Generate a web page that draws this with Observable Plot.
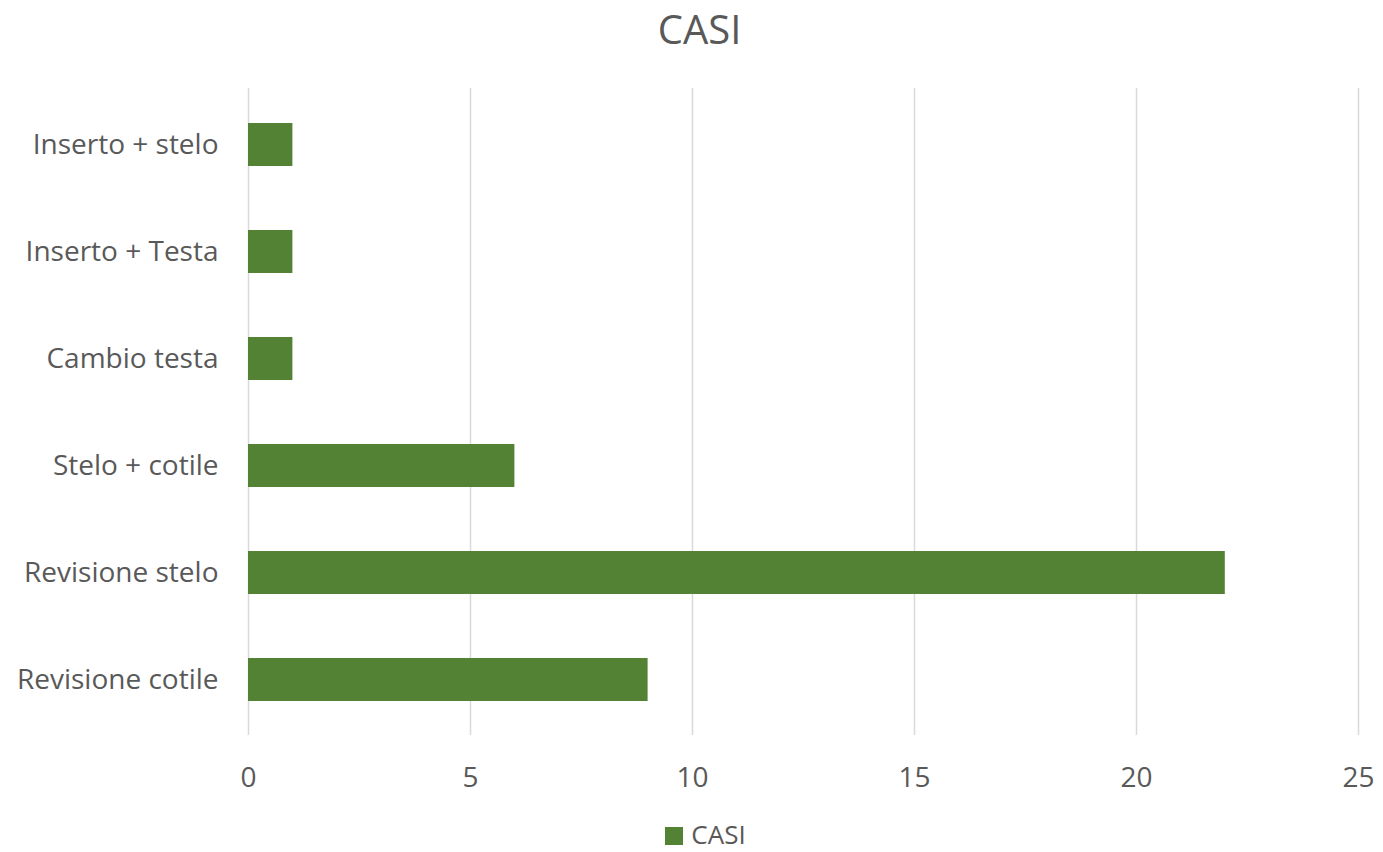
<!DOCTYPE html>
<html>
<head>
<meta charset="utf-8">
<script src="https://cdn.jsdelivr.net/npm/d3@7"></script>
<script src="https://cdn.jsdelivr.net/npm/@observablehq/plot@0.6"></script>
<style>
  html, body { margin: 0; padding: 0; background: #fff; }
  body { width: 1383px; height: 852px; font-family: "Open Sans", sans-serif; color: #595959; position: relative; }
  #title { height: 70px; padding-top: 1px; line-height: normal; text-align: center; font-size: 40px; color: #595959; padding-left: 16px; box-sizing: border-box; }
  #chart { height: 740px; }
  #legend { position: absolute; top: 816px; left: 0; width: 1383px; height: 36px; display: flex; justify-content: center; align-items: center; gap: 8px; font-size: 26px; line-height: normal; color: #595959; padding-left: 28px; box-sizing: border-box; }
  #legend .sw { width: 18px; height: 18px; background: #548235; display: inline-block; position: relative; top: 2px; }
</style>
</head>
<body>
<div id="title">CASI</div>
<div id="chart"></div>
<div id="legend"><span class="sw"></span><span>CASI</span></div>
<script>
const categories = ["Inserto + stelo", "Inserto + Testa", "Cambio testa", "Stelo + cotile", "Revisione stelo", "Revisione cotile"];
const values = [1, 1, 1, 6, 22, 9];
const xTicks = [0, 5, 10, 15, 20, 25];
const seriesName = "CASI";

const data = categories.map((c, i) => ({category: c, value: values[i]}));

const chart = Plot.plot({
  width: 1383,
  height: 740,
  marginLeft: 248,
  marginRight: 25,
  marginTop: 18,
  marginBottom: 75,
  style: {fontFamily: "Open Sans, sans-serif", fontSize: "28px", color: "#595959", background: "#fff"},
  x: {domain: [0, 25], ticks: xTicks, label: null},
  y: {domain: categories, paddingInner: 0.6, paddingOuter: 0.3, label: null},
  marks: [
    Plot.ruleX(xTicks, {stroke: "#d9d9d9", strokeWidth: 1.5}),
    Plot.barX(data, {x: "value", y: "category", fill: "#548235"}),
    Plot.axisX({ticks: xTicks, tickSize: 0, tickPadding: 32, fill: "#595959", fontSize: 28}),
    Plot.axisY({tickSize: 0, tickPadding: 30, fill: "#595959", fontSize: 28})
  ]
});
document.getElementById("chart").appendChild(chart);
</script>
</body>
</html>
